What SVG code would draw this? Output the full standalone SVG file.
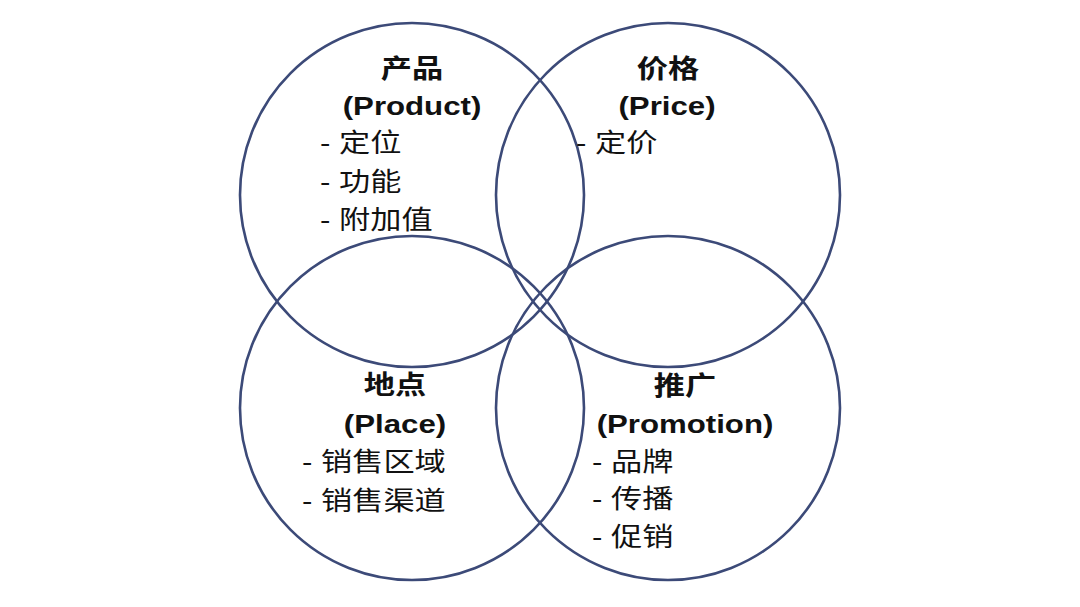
<svg xmlns="http://www.w3.org/2000/svg" width="1080" height="607" viewBox="0 0 1080 607">
<style>
.c{fill:none;stroke:#3c4a78;stroke-width:2.6}
.t{font-family:"Liberation Sans","Noto Sans CJK SC",sans-serif;font-size:26px;fill:#111}
.b{font-weight:bold;text-anchor:middle}
</style>
<rect width="1080" height="607" fill="#fff"/>
<g id="product">
<circle class="c" cx="412" cy="195" r="172"/>
<text class="t b" transform="translate(412,78) scale(1.2,1)">产品</text>
<text class="t b" transform="translate(412,115) scale(1.2,1)">(Product)</text>
<text class="t" transform="translate(320,152) scale(1.2,1)">- 定位</text>
<text class="t" transform="translate(320,191) scale(1.2,1)">- 功能</text>
<text class="t" transform="translate(320,229) scale(1.2,1)">- 附加值</text>
</g>
<g id="price">
<circle class="c" cx="668" cy="195" r="172"/>
<text class="t b" transform="translate(668,78) scale(1.2,1)">价格</text>
<text class="t b" transform="translate(667,115) scale(1.2,1)">(Price)</text>
<text class="t" transform="translate(576,152) scale(1.2,1)">- 定价</text>
</g>
<g id="place">
<circle class="c" cx="412" cy="408" r="172"/>
<text class="t b" transform="translate(395,394) scale(1.2,1)">地点</text>
<text class="t b" transform="translate(395,433) scale(1.2,1)">(Place)</text>
<text class="t" transform="translate(302,471) scale(1.2,1)">- 销售区域</text>
<text class="t" transform="translate(302,510) scale(1.2,1)">- 销售渠道</text>
</g>
<g id="promotion">
<circle class="c" cx="668" cy="408" r="172"/>
<text class="t b" transform="translate(685,395) scale(1.2,1)">推广</text>
<text class="t b" transform="translate(685,433) scale(1.2,1)">(Promotion)</text>
<text class="t" transform="translate(592,471) scale(1.2,1)">- 品牌</text>
<text class="t" transform="translate(592,508) scale(1.2,1)">- 传播</text>
<text class="t" transform="translate(592,546) scale(1.2,1)">- 促销</text>
</g>
<g id="connectors"></g>
</svg>
